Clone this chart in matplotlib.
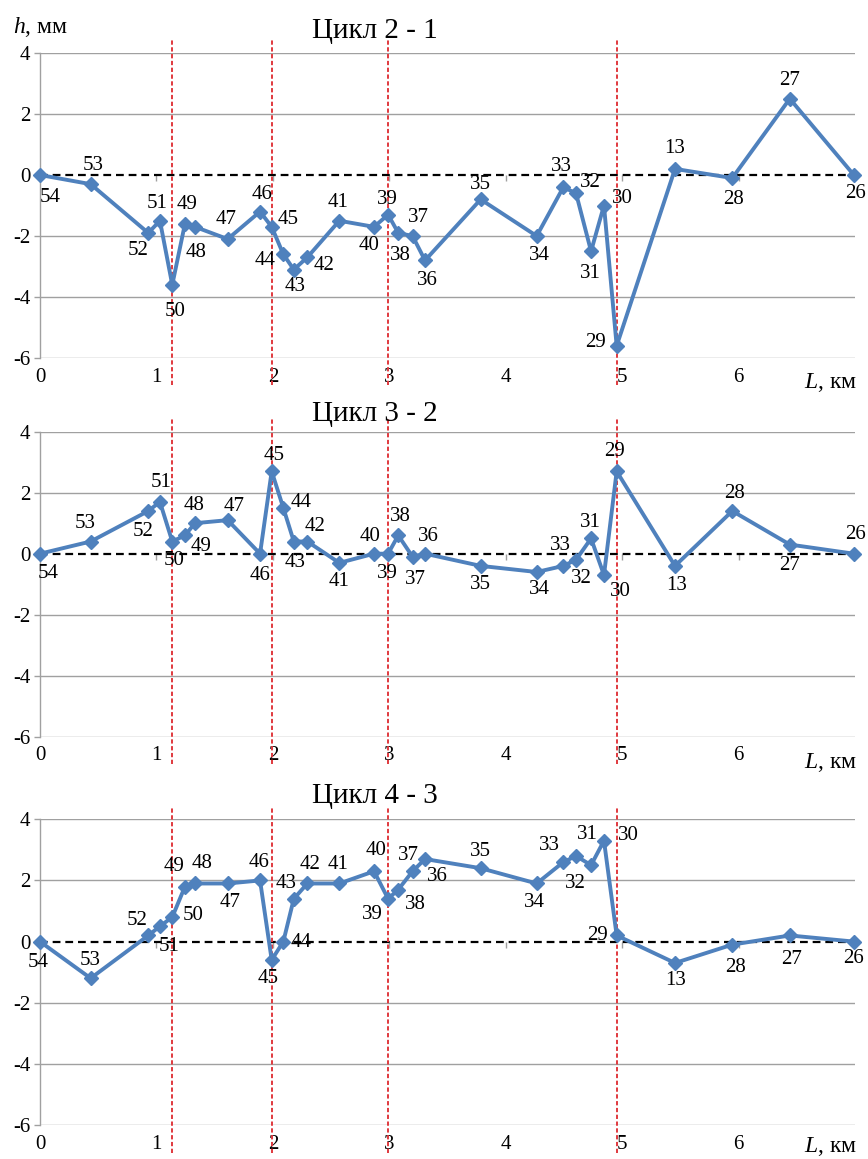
import matplotlib
matplotlib.use("Agg")
import matplotlib.pyplot as plt

plt.rcParams['font.family'] = ['Liberation Serif', 'DejaVu Serif']
plt.rcParams['mathtext.fontset'] = 'custom'
plt.rcParams['mathtext.it'] = 'Liberation Serif:italic'
plt.rcParams['mathtext.rm'] = 'Liberation Serif'

# station numbers and distance along the line, km
stations = ['54', '53', '52', '51', '50', '49', '48', '47', '46', '45', '44', '43', '42', '41', '40',
            '39', '38', '37', '36', '35', '34', '33', '32', '31', '30', '29', '13', '28', '27', '26']
dist = [0, 0.435, 0.93, 1.03, 1.136, 1.245, 1.331, 1.612, 1.89, 1.99, 2.09, 2.18, 2.296, 2.571, 2.869,
        2.99, 3.077, 3.2, 3.307, 3.785, 4.266, 4.495, 4.604, 4.733, 4.844, 4.953, 5.454, 5.946, 6.44, 6.99]

# height differences, mm
h21 = [0, -0.3, -1.9, -1.5, -3.6, -1.6, -1.7, -2.1, -1.2, -1.7, -2.6, -3.1, -2.7, -1.5, -1.7,
       -1.3, -1.9, -2.0, -2.8, -0.8, -2.0, -0.4, -0.6, -2.5, -1.0, -5.6, 0.2, -0.1, 2.5, 0]
h32 = [0, 0.4, 1.4, 1.7, 0.4, 0.6, 1.0, 1.1, 0, 2.7, 1.5, 0.4, 0.4, -0.3, 0,
       0, 0.6, -0.1, 0, -0.4, -0.6, -0.4, -0.2, 0.5, -0.7, 2.7, -0.4, 1.4, 0.3, 0]
h43 = [0, -1.2, 0.2, 0.5, 0.8, 1.8, 1.9, 1.9, 2.0, -0.6, 0, 1.4, 1.9, 1.9, 2.3,
       1.4, 1.7, 2.3, 2.7, 2.4, 1.9, 2.6, 2.8, 2.5, 3.3, 0.2, -0.7, -0.1, 0.2, 0]

titles = ['Цикл 2 - 1', 'Цикл 3 - 2', 'Цикл 4 - 3']
red_lines = [1.136, 1.99, 2.99, 4.953]

# label offsets in pixels (dx right, dy down)
off21 = [(10, 22), (3, -19), (-10, 18), (-3, -17), (3, 27), (2, -19), (1, 26), (-2, -20), (2, -17), (16, -7),
         (-18, 6), (1, 17), (17, 8), (-1, -18), (-5, 19), (-1, -15), (2, 23), (6, -18), (2, 20), (0, -15),
         (3, 20), (-2, -21), (14, -11), (-1, 22), (18, -7), (-21, -3), (0, -20), (1, 21), (0, -18), (2, 19)]
off32 = [(8, 20), (-5, -18), (-5, 21), (1, -19), (2, 19), (16, 11), (-1, -18), (6, -14), (0, 22), (2, -16),
         (18, -5), (1, 21), (8, -15), (0, 19), (-4, -17), (-1, 20), (2, -19), (3, 23), (3, -17), (0, 19),
         (3, 18), (-3, -20), (5, 19), (-1, -16), (16, 16), (-2, -20), (2, 20), (2, -17), (0, 21), (2, -19)]
off43 = [(-2, 21), (0, -18), (-11, -15), (9, 20), (21, -2), (-11, -20), (7, -20), (2, 19), (-1, -18), (-4, 19),
         (18, 1), (-8, -15), (3, -19), (-1, -19), (2, -21), (-16, 16), (17, 15), (-4, -16), (12, 17), (0, -17),
         (-2, 19), (-14, -17), (-1, 28), (-4, -31), (24, -5), (-19, 0), (1, 18), (3, 23), (2, 24), (0, 17)]

series = [h21, h32, h43]
offsets = [off21, off32, off43]

W, H = 868, 1159
fig = plt.figure(figsize=(W / 100, H / 100), dpi=100)

# axes boxes in pixels: top, bottom
boxes = [(53, 358), (431.7, 736.7), (819.3, 1125)]
title_y = [31, 414, 796]
xlabel_y = [382, 762, 1146]
blue = '#4F81BD'
grid_c = '#A0A0A0'

for i in range(3):
    top, bot = boxes[i]
    ax = fig.add_axes([40 / W, 1 - bot / H, 815 / W, (bot - top) / H])
    ax.set_xlim(0, 7)
    ax.set_ylim(-6, 4)
    for s in ['top', 'right', 'bottom']:
        ax.spines[s].set_visible(False)
    ax.spines['left'].set_color(grid_c)
    ax.spines['left'].set_linewidth(1.0)
    ax.set_yticks([-6, -4, -2, 0, 2, 4])
    ax.set_yticklabels(['-6', '-4', '-2', '0', '2', '4'])
    ax.set_xticks(range(7))
    ax.tick_params(axis='y', length=4, color=grid_c, width=1, pad=3, labelsize=15)
    ax.tick_params(axis='x', length=0, pad=7, labelsize=15)
    for yv in [-6, -4, -2, 2, 4]:
        ax.axhline(yv, color=grid_c, lw=1.0, zorder=1)
    # small ticks of the horizontal axis on the zero line
    ax.plot(range(1, 7), [0] * 6, ls='none', marker=3, ms=4, color=grid_c, zorder=1)
    ax.axhline(0, color='black', lw=1.6, ls=(0, (3.5, 2.2)), zorder=2)
    for xv in red_lines:
        ax.axvline(xv, ymin=-0.09, ymax=1.043, color='#E0393E', lw=1.4,
                   ls=(0, (2.2, 1.3)), clip_on=False, zorder=2)
    ax.plot(dist, series[i], color=blue, lw=2.8, marker='D', ms=7.5, zorder=3, clip_on=False)
    for st, x, y, (dx, dy) in zip(stations, dist, series[i], offsets[i]):
        ax.annotate(st, (x, y), xytext=(dx, -dy), textcoords='offset pixels',
                    ha='center', va='center', fontsize=15, zorder=4)
    fig.text(375 / W, 1 - title_y[i] / H, titles[i], ha='center', va='center', fontsize=21)
    fig.text(831 / W, 1 - xlabel_y[i] / H, '$L$, км', ha='center', va='center', fontsize=17)

fig.text(41 / W, 1 - 27 / H, '$h$, мм', ha='center', va='center', fontsize=17)

fig.savefig('out.png', dpi=100, facecolor='white')
